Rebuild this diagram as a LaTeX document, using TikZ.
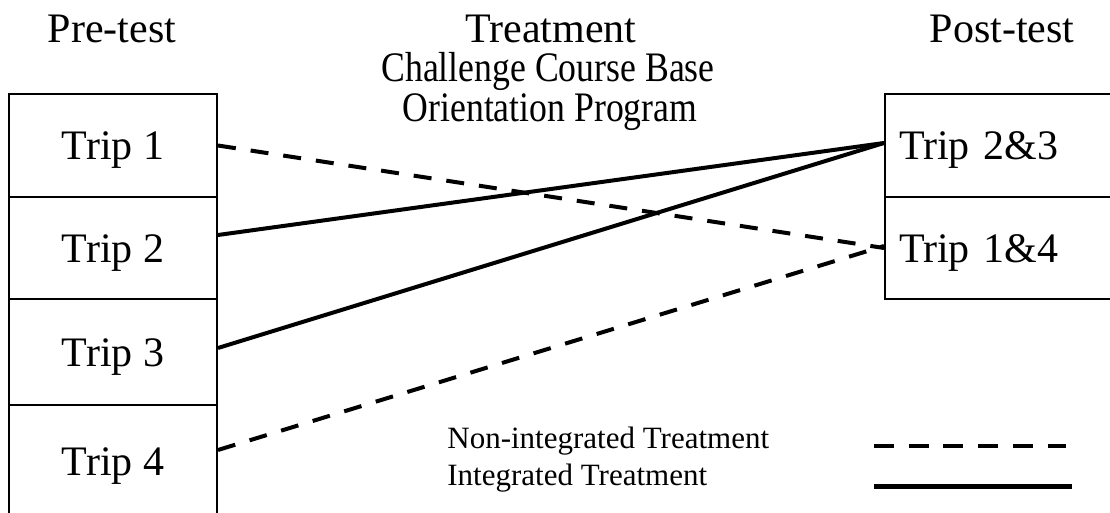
\documentclass[tikz,border=0pt]{standalone}
\usepackage{fontspec}
\setmainfont{Liberation Serif}
\begin{document}
\begin{tikzpicture}[x=0.5pt,y=-0.5pt,
  trip/.style={draw, line width=1pt, minimum width=104pt, text height=14.5pt, text depth=0pt, font=\fontsize{21}{25}\selectfont},
  posttrip/.style={trip, anchor=west, text width=109pt, inner xsep=7pt, align=left, minimum height=51.5pt},
  head/.style={anchor=base, inner sep=0pt, font=\fontsize{21}{25}\selectfont},
  key/.style={anchor=base west, inner sep=0pt, font=\fontsize{15.5}{18}\selectfont},
  plain/.style={line width=2pt},
  broken/.style={line width=2pt, dash pattern=on 9pt off 7.5pt}]
\useasboundingbox (0,0) rectangle (1110,513);
\clip (0,0) rectangle (1110,513);
\node[head] (pre) at (112,43) {Pre-test};
\node[head] (treat) at (551,43) {Treatment};
\node[head] (prog1) at (548,82) {\scalebox{0.85}[1]{Challenge Course Base}};
\node[head] (prog2) at (550,122) {\scalebox{0.85}[1]{Orientation Program}};
\node[head] (post) at (1002,43) {Post-test};
\node[trip, minimum height=51.5pt] (pre1) at (113,145.5) {Trip 1};
\node[trip, minimum height=51pt] (pre2) at (113,248) {Trip 2};
\node[trip, minimum height=53pt] (pre3) at (113,352) {Trip 3};
\node[trip, minimum height=56pt] (pre4) at (113,461) {Trip 4};
\node[posttrip] (post23) at (884,145.5) {Trip 2\&3};
\node[posttrip, minimum height=51pt] (post14) at (884,248) {Trip 1\&4};
\draw[broken] (pre1.east) -- (post14.west);
\draw[plain] ([yshift=6.5pt]pre2.east) -- ([yshift=1.25pt]post23.west);
\draw[plain] ([yshift=2pt]pre3.east) -- ([yshift=1.25pt]post23.west);
\draw[broken] ([yshift=5.5pt]pre4.east) -- ([yshift=1pt]post14.west);
% legend
\node[key] (keyn) at (447,449) {Non-integrated Treatment};
\node[key] (keyi) at (447,486) {Integrated Treatment};
\coordinate (dashA) at (874,446);
\coordinate (dashB) at (1066,446);
\coordinate (fullA) at (874,487);
\coordinate (fullB) at (1072,487);
\draw[broken, dash pattern=on 10pt off 7.35pt] (dashA) -- (dashB);
\draw[plain, line width=2.5pt] (fullA) -- (fullB);
\end{tikzpicture}
\end{document}
